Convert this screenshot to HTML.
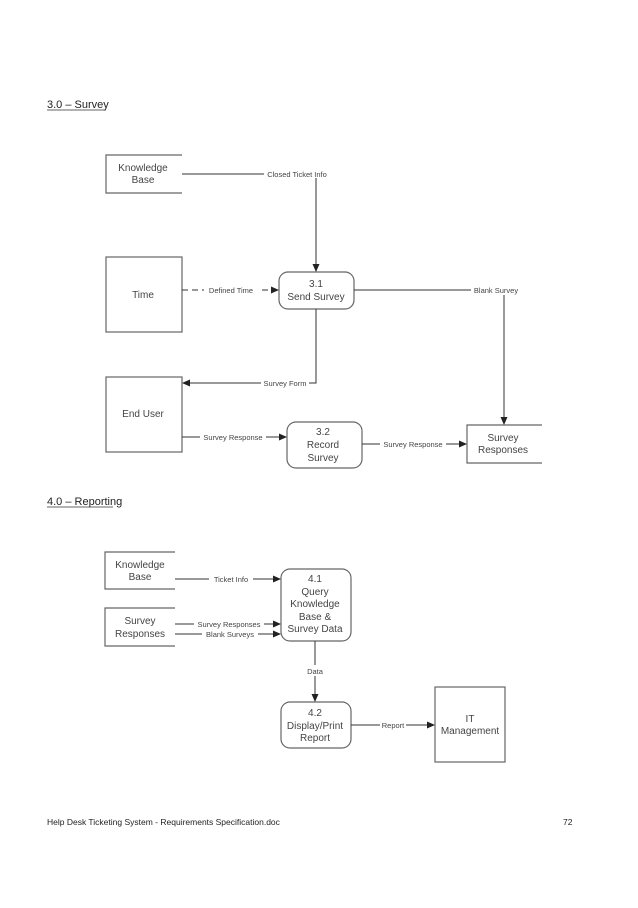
<!DOCTYPE html>
<html><head><meta charset="utf-8"><style>
body{margin:0;background:#fff;}
svg text{font-family:"Liberation Sans",sans-serif;fill:#444;}
</style></head><body>
<svg width="638" height="903" viewBox="0 0 638 903" xmlns="http://www.w3.org/2000/svg">
<defs><marker id="a" markerWidth="8" markerHeight="8" refX="7" refY="4" orient="auto" markerUnits="userSpaceOnUse"><path d="M0,0.5 L8,4 L0,7.5 z" fill="#222"/></marker></defs>
<g font-size="10.5">
<text x="47" y="108" font-size="11" fill="#222" style="fill:#222">3.0 – Survey</text>
<line x1="47" y1="110" x2="106" y2="110" stroke="#333" stroke-width="0.8"/>
<text x="47" y="505" font-size="11" style="fill:#222">4.0 – Reporting</text>
<line x1="47" y1="507" x2="113" y2="507" stroke="#333" stroke-width="0.8"/>
</g>
<g stroke="#666" stroke-width="1.2" fill="none">
<!-- KB open -->
<path d="M182,155 H106 V193 H182"/>
<rect x="106" y="257" width="76" height="75"/>
<rect x="106" y="377" width="76" height="75"/>
<rect x="279" y="272" width="75" height="37" rx="9"/>
<rect x="287" y="422" width="75" height="46" rx="9"/>
<path d="M542,425 H467 V463 H542"/>
<path d="M175,552 H105 V589 H175"/>
<path d="M175,608 H105 V646 H175"/>
<rect x="281" y="569" width="70" height="72" rx="9"/>
<rect x="281" y="702" width="70" height="46" rx="9"/>
<rect x="435" y="687" width="70" height="75"/>
</g>
<g stroke="#333" stroke-width="1" fill="none">
<path d="M182,174 H316 V271" marker-end="url(#a)"/>
<path d="M182,290 H278" stroke-dasharray="6,4" marker-end="url(#a)"/>
<path d="M354,290 H504 V424" />
<path d="M504,300 V424" marker-end="url(#a)"/>
<path d="M316,309 V383 H183" marker-end="url(#a)"/>
<path d="M182,437 H286" marker-end="url(#a)"/>
<path d="M362,444 H466" marker-end="url(#a)"/>
<path d="M175,579 H280" marker-end="url(#a)"/>
<path d="M175,624 H280" marker-end="url(#a)"/>
<path d="M175,634 H280" marker-end="url(#a)"/>
<path d="M315,641 V701" marker-end="url(#a)"/>
<path d="M351,725 H434" marker-end="url(#a)"/>
</g>
<g font-size="7.5" text-anchor="middle">
<rect x="264" y="168" width="66" height="10" fill="#fff"/><text x="297" y="177">Closed Ticket Info</text>
<rect x="204" y="285" width="54" height="10" fill="#fff"/><text x="231" y="293">Defined Time</text>
<rect x="471" y="285" width="51" height="10" fill="#fff"/><text x="496" y="293">Blank Survey</text>
<rect x="261" y="378" width="48" height="10" fill="#fff"/><text x="285" y="386">Survey Form</text>
<rect x="200" y="432" width="66" height="10" fill="#fff"/><text x="233" y="440">Survey Response</text>
<rect x="380" y="439" width="66" height="10" fill="#fff"/><text x="413" y="447">Survey Response</text>
<rect x="209" y="574" width="44" height="10" fill="#fff"/><text x="231" y="582">Ticket Info</text>
<rect x="194" y="619" width="70" height="10" fill="#fff"/><text x="229" y="627">Survey Responses</text>
<rect x="202" y="629" width="56" height="10" fill="#fff"/><text x="230" y="637">Blank Surveys</text>
<rect x="304" y="665" width="22" height="11" fill="#fff"/><text x="315" y="674">Data</text>
<rect x="380" y="720" width="26" height="10" fill="#fff"/><text x="393" y="728">Report</text>
</g>
<g font-size="10" text-anchor="middle">
<text x="143" y="171">Knowledge</text><text x="143" y="183">Base</text>
<text x="143" y="298">Time</text>
<text x="143" y="417">End User</text>
<text x="316" y="287">3.1</text><text x="316" y="300">Send Survey</text>
<text x="323" y="435">3.2</text><text x="323" y="448">Record</text><text x="323" y="461">Survey</text>
<text x="503" y="441">Survey</text><text x="503" y="453">Responses</text>
<text x="140" y="568">Knowledge</text><text x="140" y="580">Base</text>
<text x="140" y="624">Survey</text><text x="140" y="637">Responses</text>
<text x="315" y="582">4.1</text><text x="315" y="595">Query</text><text x="315" y="607">Knowledge</text><text x="315" y="620">Base &amp;</text><text x="315" y="632">Survey Data</text>
<text x="315" y="716">4.2</text><text x="315" y="729">Display/Print</text><text x="315" y="741">Report</text>
<text x="470" y="722">IT</text><text x="470" y="734">Management</text>
</g>
<text x="47" y="825" font-size="8.5" style="fill:#222">Help Desk Ticketing System - Requirements Specification.doc</text>
<text x="563" y="825" font-size="8.5" style="fill:#222">72</text>
</svg>
</body></html>
